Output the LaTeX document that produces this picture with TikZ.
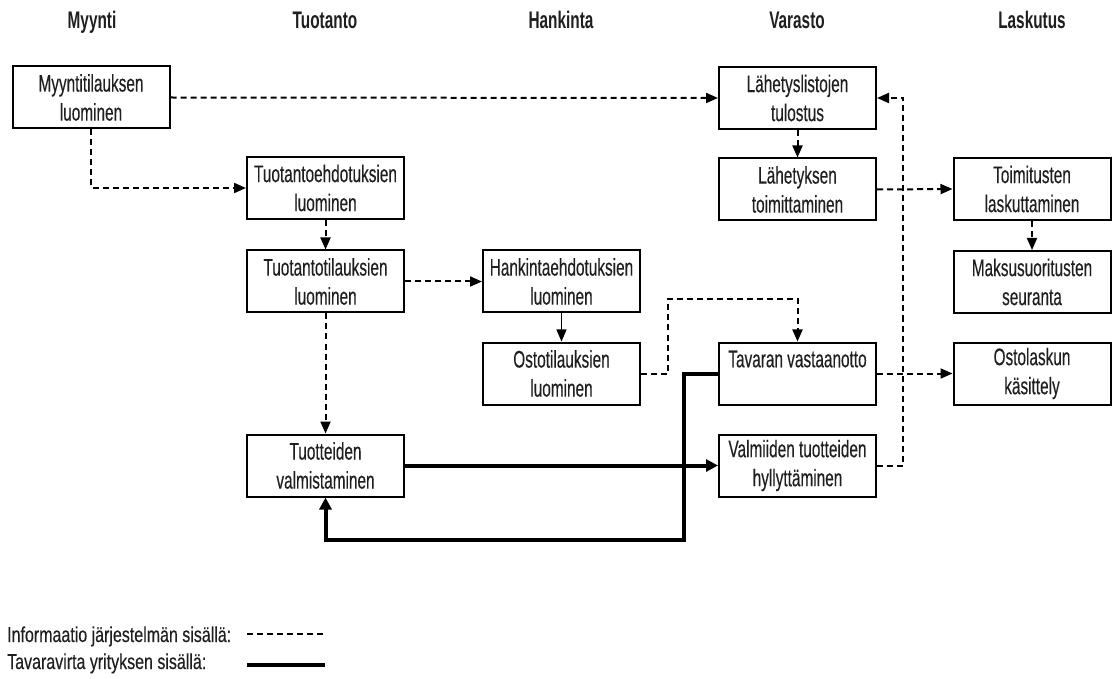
\documentclass[tikz,border=0pt]{standalone}
\usepackage{fontspec}
\newfontfamily\boxfont[FakeStretch=0.64,FakeBold=0.3]{Liberation Sans}
\newfontfamily\legfont[FakeStretch=0.744,FakeBold=0.3]{Liberation Sans}
\newfontfamily\headfont[FakeStretch=0.64]{Liberation Sans Bold}
\usetikzlibrary{arrows.meta}
\definecolor{txt}{gray}{0.12}
\tikzset{
  proc/.style={draw=black, line width=2pt, minimum width=157pt, minimum height=62pt,
    inner sep=0pt, align=center, text=txt, font=\boxfont\fontsize{24}{29}\selectfont},
  head/.style={anchor=base, text=txt, font=\headfont\fontsize{24}{29}\selectfont},
  legtext/.style={anchor=base west, inner sep=0pt, text=txt, font=\legfont\fontsize{21.5}{26}\selectfont},
  info/.style={line width=2pt, dash pattern=on 6pt off 4pt, -{Triangle[length=12pt,width=10pt]}},
  infoline/.style={line width=2pt, dash pattern=on 6pt off 4pt},
  thin/.style={line width=1.2pt, -{Triangle[length=12pt,width=10pt]}},
  goods/.style={line width=4pt, -{Triangle[length=12pt,width=12pt]}},
  goodsline/.style={line width=4pt}
}
\begin{document}
\begin{tikzpicture}[x=1pt,y=-1pt]
\path[use as bounding box] (0,0) rectangle (1112,679);
% headers
\node[head] (h1) at (92,29) {Myynti};
\node[head] (h2) at (325,29) {Tuotanto};
\node[head] (h3) at (561,29) {Hankinta};
\node[head] (h4) at (797,29) {Varasto};
\node[head] (h5) at (1032,29) {Laskutus};
% boxes
\node[proc] (my) at (91,97.5) {Myyntitilauksen\\luominen};
\node[proc] (te) at (325.5,188) {Tuotantoehdotuksien\\luominen};
\node[proc] (tt) at (325.5,281.5) {Tuotantotilauksien\\luominen};
\node[proc] (tv) at (325.5,465.5) {Tuotteiden\\valmistaminen};
\node[proc] (he) at (561.5,281.5) {Hankintaehdotuksien\\luominen};
\node[proc] (ot) at (561.5,373.5) {Ostotilauksien\\luominen};
\node[proc] (ll) at (797.5,98) {Lähetyslistojen\\tulostus};
\node[proc] (lt) at (797.5,189.5) {Lähetyksen\\toimittaminen};
\node[proc] (ta) at (797.5,373.5) {Tavaran vastaanotto\\\phantom{x}};
\node[proc] (vh) at (797.5,465.5) {Valmiiden tuotteiden\\hyllyttäminen};
\node[proc] (tl) at (1032,189) {Toimitusten\\laskuttaminen};
\node[proc] (ms) at (1032,282) {Maksusuoritusten\\seuranta};
\node[proc] (ol) at (1032,373.5) {Ostolaskun\\käsittely};
% information flows
\draw[info] (my.east) -- (ll.west);
\draw[info] (my.south) |- (te.west);
\draw[info] (te.south) -- (tt.north);
\draw[info] (tt.east) -- (he.west);
\draw[info] (tt.south) -- (tv.north);
\draw[thin] (he.south) -- (ot.north);
\coordinate (o1) at (668,373.5);
\coordinate (o2) at (668,299);
\draw[info] (ot.east) -- (o1) -- (o2) -| (ta.north);
\draw[info] (ll.south) -- (lt.north);
\draw[info] (lt.east) -- (tl.west);
\coordinate (v1) at (903,465.5);
\draw[info] (vh.east) -- (v1) |- (ll.east);
\draw[info] (ta.east) -- (ol.west);
\draw[info] (tl.south) -- (ms.north);
% goods flows
\draw[goods] (tv.east) -- (vh.west);
\coordinate (g1) at (684,373.5);
\coordinate (g2) at (684,540);
\draw[goods] (ta.west) -- (g1) -- (g2) -| (tv.south);
% legend
\node[legtext] (l1) at (7,642) {Informaatio järjestelmän sisällä:};
\node[legtext] (l2) at (7,669) {Tavaravirta yrityksen sisällä:};
\coordinate (d1) at (247,634);
\coordinate (d2) at (325,634);
\coordinate (s1) at (247,665);
\coordinate (s2) at (325,665);
\draw[infoline] (d1) -- (d2);
\draw[goodsline] (s1) -- (s2);
\end{tikzpicture}
\end{document}
